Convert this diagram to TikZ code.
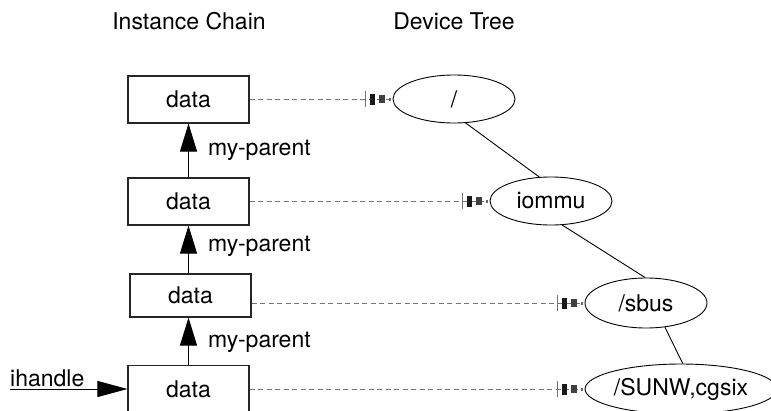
\documentclass[tikz,border=0pt]{standalone}
\usepackage{fontspec}
\setmainfont{TeX Gyre Heros}
\usetikzlibrary{arrows.meta,shapes.geometric,calc}
\begin{document}
\begin{tikzpicture}[x=1pt,y=-1pt,
  font=\fontsize{23}{27}\selectfont,
  box/.style={draw=black!85, line width=1.1pt, minimum width=121pt, minimum height=47pt, inner sep=0pt},
  dev/.style={draw, ellipse, line width=0.9pt, minimum width=122pt, minimum height=48pt, inner sep=0pt},
  parent/.style={line width=0.9pt, -{Triangle[length=28pt,width=17pt]}},
  link/.style={dash pattern=on 5pt off 3.5pt, line width=0.8pt, draw=black!55,
    -{Bar[width=16pt,line width=0.8pt,sep=4pt] Rectangle[length=5pt,width=11pt,sep=4pt,color=black!90] Rectangle[length=6pt,width=8pt,sep=4pt,color=black!75] Rectangle[length=2pt,width=3pt,color=black!60]},
    shorten >=2pt},
  tree/.style={line width=0.9pt},
  lbl/.style={inner sep=0pt, anchor=base west}]
\useasboundingbox (0,0) rectangle (771,410);
% headers
\node[inner sep=0pt, anchor=base] (h1) at (189,29) {Instance Chain};
\node[inner sep=0pt, anchor=base] (h2) at (454,29) {Device Tree};
% instance chain
\node[box] (b1) at (188.5,99.5) {data};
\node[box] (b2) at (188.5,201.5) {data};
\node[box, minimum height=43pt] (b3) at (190.5,295.5) {data};
\node[box] (b4) at (188.5,389) {data};
% device tree
\node[dev] (e1) at (454,99) {/};
\node[dev] (e2) at (551,201) {iommu};
\node[dev, minimum height=50pt] (e3) at (646,303) {/sbus};
\node[dev, minimum width=192pt, minimum height=50pt] (e4) at (681,389) {/SUNW,cgsix};
% my-parent arrows
\draw[parent] (b2.north) -- (b1.south);
\draw[parent] (b3.north -| b2.south) -- (b2.south);
\draw[parent] (b4.north) -- (b4.north |- b3.south);
\node[lbl] (l1) at (208,155) {my-parent};
\node[lbl] (l2) at (208,251) {my-parent};
\node[lbl] (l3) at (208,347) {my-parent};
% ihandle
\node[lbl] (ih) at (10,386) {ihandle};
\coordinate (ihs) at (10,389);
\draw[line width=0.9pt, -{Triangle[length=30pt,width=16pt]}] (ihs) -- (b4.west);
% dashed links
\draw[link] (b1.east |- e1.west) -- (e1.west);
\draw[link] (b2.east |- e2.west) -- (e2.west);
\draw[link] (b3.east |- e3.west) -- (e3.west);
\draw[link] (b4.east |- e4.west) -- (e4.west);
% tree lines
\draw[tree] (e1.-64) -- (e2.116);
\draw[tree] (e2.-65) -- (e3.92);
\draw[tree] (e3.-52) -- (e4.86);
\end{tikzpicture}
\end{document}
